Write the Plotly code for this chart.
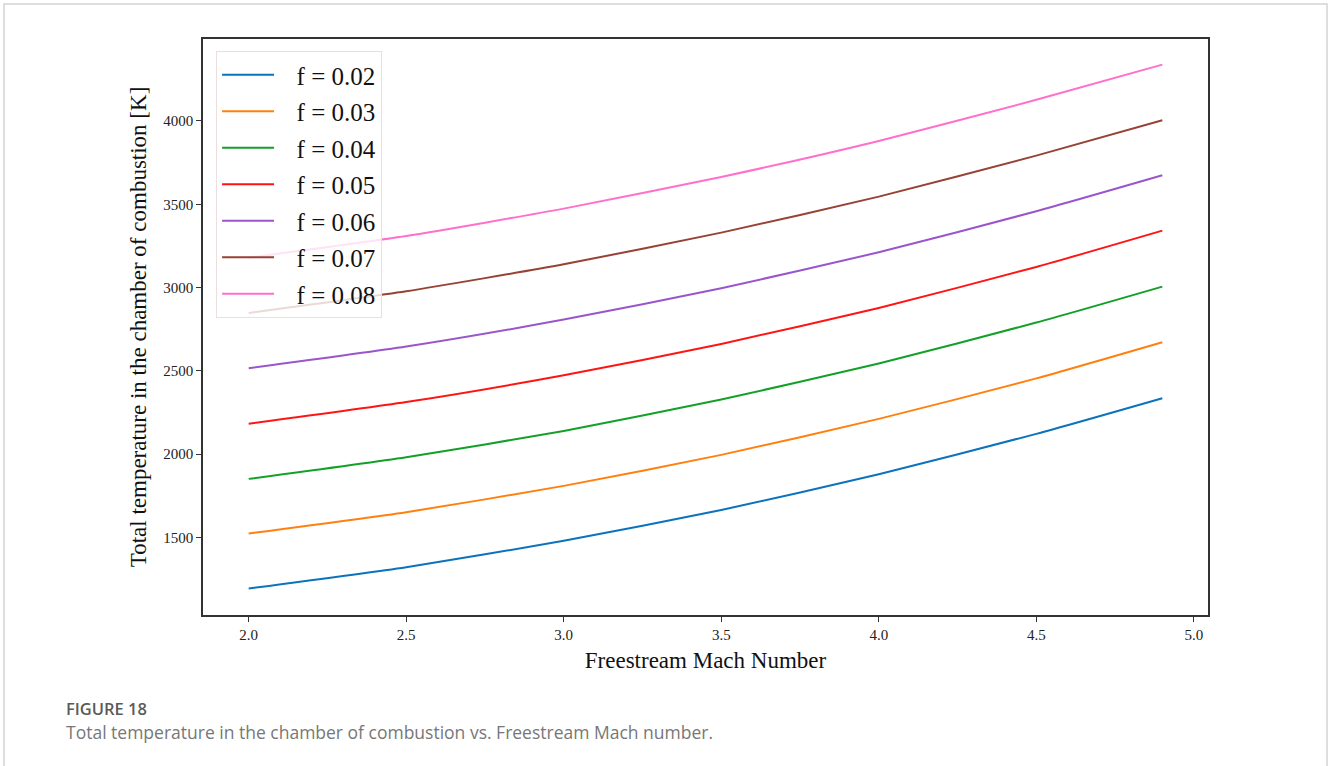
import plotly.graph_objects as go

# Freestream Mach number samples
mach = [2.0, 2.5, 3.0, 3.5, 4.0, 4.5, 4.9]

# Total combustion-chamber temperature [K] for each fuel-air ratio f
t_f002 = [1194, 1322, 1480, 1665, 1880, 2122, 2336]
t_f003 = [1524, 1652, 1810, 1996, 2212, 2455, 2672]
t_f004 = [1852, 1982, 2140, 2328, 2545, 2790, 3006]
t_f005 = [2183, 2313, 2474, 2662, 2878, 3124, 3342]
t_f006 = [2516, 2646, 2808, 2996, 3212, 3458, 3674]
t_f007 = [2848, 2978, 3140, 3330, 3546, 3792, 4004]
t_f008 = [3180, 3310, 3474, 3664, 3880, 4127, 4338]

labels = ["f = 0.02", "f = 0.03", "f = 0.04", "f = 0.05", "f = 0.06", "f = 0.07", "f = 0.08"]
series = [t_f002, t_f003, t_f004, t_f005, t_f006, t_f007, t_f008]
colors = ["#0b72bd", "#ff800e", "#12a028", "#ff1414", "#9a55cc", "#974235", "#ff6fcb"]

x_ticks = [2.0, 2.5, 3.0, 3.5, 4.0, 4.5, 5.0]
y_ticks = [1500, 2000, 2500, 3000, 3500, 4000]

serif = "Liberation Serif"

fig = go.Figure()
for i, (lab, ys, col) in enumerate(zip(labels, series, colors)):
    fig.add_trace(go.Scatter(
        x=mach, y=ys, mode="lines",
        # padded so the label sits a little further from its line sample
        name="\u2002\u2009" + lab, legendgroup=f"g{i}",
        line=dict(color=col, width=2, shape="spline", smoothing=0.6),
    ))

axis_common = dict(
    showline=True, linecolor="#333333", linewidth=1.5, mirror=True,
    ticks="outside", ticklen=5, tickwidth=1.2, tickcolor="#333333",
    showgrid=False, zeroline=False,
    tickfont=dict(family=serif, size=15, color="#222222"),
)

fig.update_layout(
    width=1328, height=766,
    margin=dict(l=203, r=120, t=39, b=151),
    paper_bgcolor="white", plot_bgcolor="white",
    xaxis=dict(
        range=[1.855, 5.045], tickvals=x_ticks,
        ticktext=[f"{v:.1f}" for v in x_ticks],
        title=dict(text="Freestream Mach Number", font=dict(family=serif, size=23, color="#111111"), standoff=10),
        **axis_common,
    ),
    yaxis=dict(
        range=[1035, 4492], tickvals=y_ticks,
        title=dict(text="Total temperature in the chamber of combustion [K]", font=dict(family=serif, size=23, color="#111111"), standoff=10),
        **axis_common,
    ),
    legend=dict(
        x=0.013, y=0.979, xanchor="left", yanchor="top",
        bgcolor="rgba(255,255,255,0.8)", bordercolor="#ecdede", borderwidth=1,
        font=dict(family=serif, size=25, color="#111111"),
        tracegroupgap=1, itemwidth=52,
    ),
    showlegend=True,
)

# Card outline around the figure
fig.add_shape(
    type="rect", xref="paper", yref="paper",
    x0=(4 - 203) / 1005, x1=(1327 - 203) / 1005,
    y0=(615 - 800) / 576, y1=(615 - 4) / 576,
    line=dict(color="#d4d4d4", width=1.5), fillcolor="rgba(0,0,0,0)", layer="below",
)

# Caption
fig.add_annotation(
    text="FIGURE 18", xref="paper", yref="paper",
    x=(64 - 203) / 1005, y=(615 - 708) / 576, xanchor="left", yanchor="middle",
    showarrow=False, font=dict(family="Open Sans", size=16.5, color="#5a5a5a", weight=600),
)
fig.add_annotation(
    text="Total temperature in the chamber of combustion vs. Freestream Mach number.",
    xref="paper", yref="paper",
    x=(64 - 203) / 1005, y=(615 - 732) / 576, xanchor="left", yanchor="middle",
    showarrow=False, font=dict(family="Open Sans", size=17.5, color="#777777"),
)

fig.write_html("out.html")
